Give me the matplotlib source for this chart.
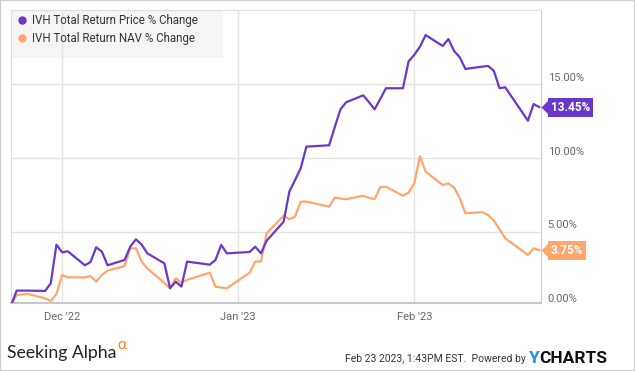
import pandas as pd
import matplotlib
matplotlib.use('Agg')
import matplotlib.pyplot as plt
from matplotlib.lines import Line2D
from matplotlib.patches import Rectangle
from matplotlib.path import Path

plt.rcParams['font.family'] = ['Roboto', 'DejaVu Sans']

# trading days shown on the chart
dates = [
    '2022-11-22', '2022-11-23', '2022-11-25', '2022-11-28', '2022-11-29', '2022-11-30',
    '2022-12-01', '2022-12-02', '2022-12-05', '2022-12-06', '2022-12-07', '2022-12-08', '2022-12-09',
    '2022-12-12', '2022-12-13', '2022-12-14', '2022-12-15', '2022-12-16',
    '2022-12-19', '2022-12-20', '2022-12-21', '2022-12-22', '2022-12-23',
    '2022-12-27', '2022-12-28', '2022-12-29', '2022-12-30',
    '2023-01-03', '2023-01-04', '2023-01-05', '2023-01-06',
    '2023-01-09', '2023-01-10', '2023-01-11', '2023-01-12', '2023-01-13',
    '2023-01-17', '2023-01-18', '2023-01-19', '2023-01-20',
    '2023-01-23', '2023-01-24', '2023-01-25', '2023-01-26', '2023-01-27',
    '2023-01-30', '2023-01-31', '2023-02-01', '2023-02-02', '2023-02-03',
    '2023-02-06', '2023-02-07', '2023-02-08', '2023-02-09', '2023-02-10',
    '2023-02-13', '2023-02-14', '2023-02-15', '2023-02-16', '2023-02-17',
    '2023-02-21', '2023-02-22', '2023-02-23',
]

price_pct = [
    0.0, 1.0, 1.0, 0.98, 1.5, 4.12,
    3.6, 3.67, 2.72, 2.94, 3.94, 3.65, 2.72,
    3.08, 3.99, 4.48, 4.12, 3.53,
    2.85, 1.16, 1.61, 1.27, 2.97,
    2.76, 3.08, 4.1, 3.53,
    3.62, 3.98, 3.53, 4.38,
    5.68, 7.72, 8.5, 9.3, 10.77,
    10.86, 12.1, 13.3, 13.78,
    14.25, 13.8, 13.3, 14.0, 14.73,
    14.73, 16.56, 17.0, 17.55, 18.34,
    17.6, 18.07, 17.26, 16.83, 16.04,
    16.2, 16.24, 15.92, 14.73, 14.8,
    12.53, 13.66, 13.45,
]

nav_pct = [
    0.0, 0.71, 0.77, 0.48, 0.30, 0.77,
    2.06, 1.90, 1.90, 1.99, 1.61, 2.06, 2.36,
    2.67, 3.87, 3.87, 2.97, 2.51,
    1.52, 1.16, 1.84, 1.54, 1.73,
    2.22, 1.27, 1.21, 1.16,
    2.22, 2.97, 2.97, 4.89,
    6.09, 5.84, 6.02, 7.04, 7.04,
    6.7, 7.31, 7.25, 7.2,
    7.44, 7.3, 7.2, 8.01, 8.05,
    7.44, 7.65, 8.28, 10.12, 9.07,
    8.17, 8.28, 7.99, 7.27, 6.25,
    6.32, 6.13, 5.75, 5.16, 4.55,
    3.42, 3.87, 3.75,
]

series_names = ['IVH Total Return Price % Change', 'IVH Total Return NAV % Change']
last_labels = ['13.45%', '3.75%']
month_ticks = ['2022-12-01', '2023-01-01', '2023-02-01']
month_labels = ["Dec '22", "Jan '23", "Feb '23"]
y_ticks = [0, 5, 10, 15]

purple = '#6a38c9'
orange = '#ffa66c'
grid_c = '#e3e3e3'

x = pd.to_datetime(dates)

fig = plt.figure(figsize=(6.35, 3.71), dpi=100)
ax = fig.add_axes([11 / 635, 1 - 303.3 / 371, 529.7 / 635, 293.3 / 371])

ax.plot(x, price_pct, color=purple, lw=1.6, zorder=3)
ax.plot(x, nav_pct, color=orange, lw=1.6, zorder=2)

ax.set_xlim(pd.Timestamp('2022-11-22'), pd.Timestamp('2023-02-23 06:00'))
ax.set_ylim(0.14, 20.04)

ax.set_xticks(pd.to_datetime(month_ticks))
ax.set_xticklabels(month_labels)
ax.set_yticks(y_ticks[1:])
ax.tick_params(axis='y', length=0, labelleft=False)
ax.tick_params(axis='x', length=0, labelsize=8, colors='#666666', pad=6)
ax.set_axisbelow(True)
ax.grid(True, color=grid_c, lw=1)

for side in ['left', 'top']:
    ax.spines[side].set_color('#dddddd')
ax.spines['right'].set_color('#cccccc')
ax.spines['bottom'].set_color('#c8c8c8')
ax.spines['bottom'].set_linewidth(1.5)

# y labels sit just above their gridlines, right of the plot
for v in y_ticks:
    ax.text(1.013, v + 0.1, f'{v:.2f}%', transform=ax.get_yaxis_transform(),
            ha='left', va='bottom', fontsize=8, color='#666666')

# last-value tags
tri = Path([(0, 0), (1, 1), (1, -1), (0, 0)], closed=True)
for vals, lab, col in [(price_pct, last_labels[0], purple), (nav_pct, last_labels[1], orange)]:
    ax.plot([1.0], [vals[-1]], marker=tri, ms=12.2, color=col, mec='none',
            transform=ax.get_yaxis_transform(), clip_on=False, zorder=5)
    ax.annotate(lab, xy=(1.0, vals[-1]), xycoords=ax.get_yaxis_transform(),
                xytext=(10, 0), textcoords='offset pixels', ha='left', va='center',
                color='white', fontweight='bold', fontsize=8.5,
                bbox=dict(boxstyle='square,pad=0.25', fc=col, ec='none'),
                annotation_clip=False, zorder=5)

# legend with light grey background
ax.add_patch(Rectangle((0, 1 - 48 / 293.3), 212 / 529.7, 48 / 293.3, transform=ax.transAxes,
                       fc='#f5f5f5', ec='none', zorder=0.2))
handles = [Line2D([], [], ls='', marker='o', ms=5, color=c) for c in [purple, orange]]
leg = ax.legend(handles, series_names, loc='upper left', bbox_to_anchor=(0.012, 0.985),
                frameon=False, fontsize=8.3, handlelength=0.8, handletextpad=0.45,
                labelspacing=0.4, borderpad=0, borderaxespad=0)
for t in leg.get_texts():
    t.set_color('#333333')

# footer
fig.text(7 / 635, 1 - 358 / 371, 'Seeking Alpha', fontsize=12.7, family=['Lato', 'DejaVu Sans'],
         color='#222222', va='baseline')
fig.text(117 / 635, 1 - 349 / 371, 'α', fontsize=11, family=['Lato', 'DejaVu Sans'],
         color='#ff7a1a', va='baseline')
fig.text(526 / 635, 1 - 361.5 / 371, 'Feb 23 2023, 1:43PM EST.  Powered by', fontsize=7.5,
         color='#333333', va='baseline', ha='right')
fig.text(529 / 635, 1 - 363.3 / 371, 'Y', fontsize=12.5, fontweight='bold', color='#1c8fe6',
         va='baseline')
fig.text(539.5 / 635, 1 - 363.3 / 371, 'CHARTS', fontsize=12.5, fontweight='bold', color='#111111',
         va='baseline')

fig.patches.append(Rectangle((0, 0), 1, 1, transform=fig.transFigure, fill=False,
                             ec='#cccccc', lw=1.5))

fig.savefig('out.png', dpi=100)
